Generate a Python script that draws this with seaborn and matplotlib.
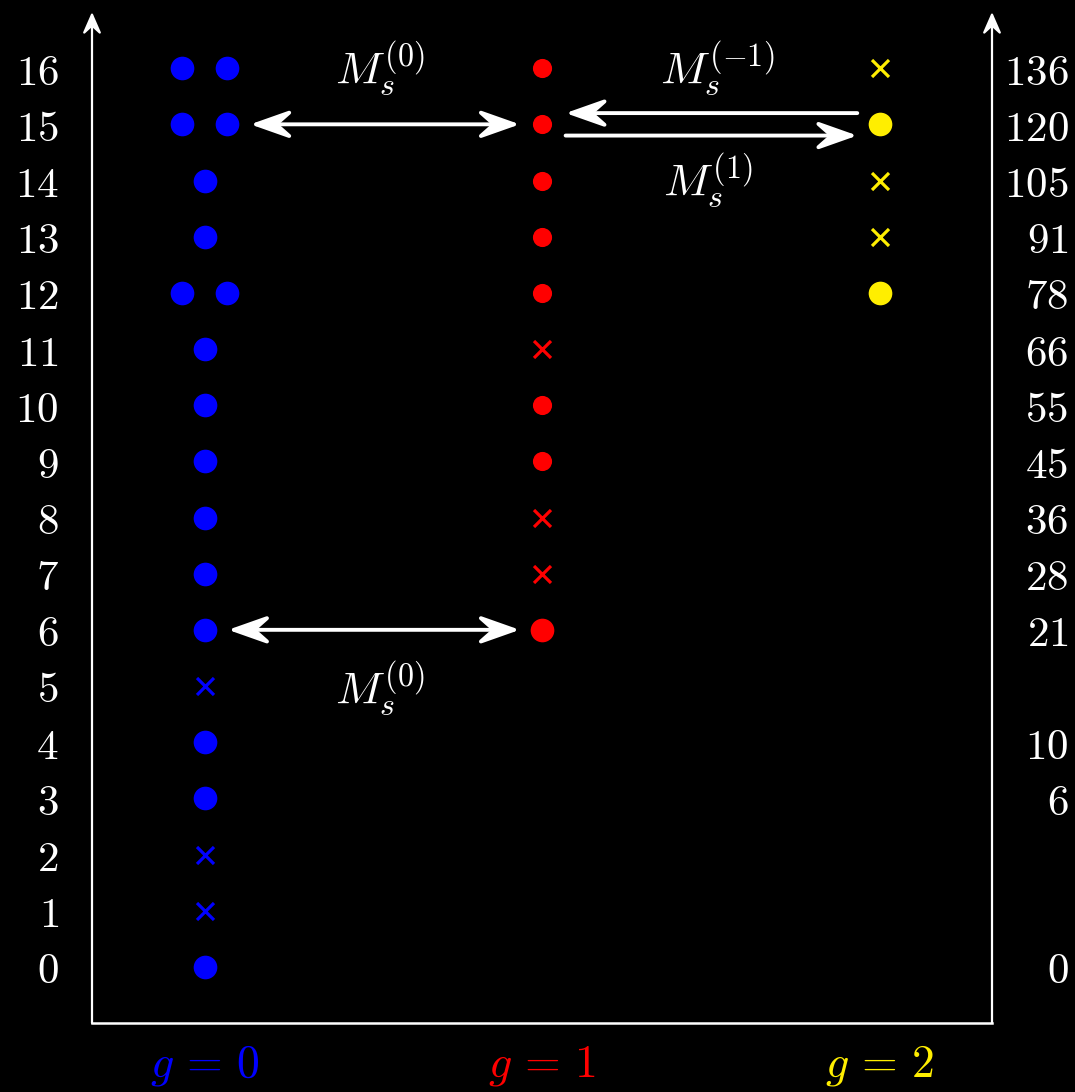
import matplotlib

matplotlib.use("Agg")
import matplotlib.pyplot as plt
import pandas as pd
import seaborn as sns
from matplotlib.patches import ArrowStyle
from matplotlib.path import Path

# rows of the diagram (left axis) and the g = 2 values (right axis)
rows = list(range(17))
right_rows = [0, 3, 4, 6, 7, 8, 9, 10, 11, 12, 13, 14, 15, 16]
right_labels = [0, 6, 10, 21, 28, 36, 45, 55, 66, 78, 91, 105, 120, 136]

# g = 0 column
g0_dots = [0, 3, 4, 6, 7, 8, 9, 10, 11, 13, 14]
g0_pairs = [12, 15, 16]
g0_cross = [1, 2, 5]
# g = 1 column
g1_dots = [9, 10, 12, 13, 14, 15, 16]
g1_big = [6]
g1_cross = [7, 8, 11]
# g = 2 column
g2_dots = [12, 15]
g2_cross = [13, 14, 16]

columns = [0, 1, 2]
col_labels = [r"$g\,=\,0$", r"$g\,=\,1$", r"$g\,=\,2$"]
col_colors = ["#0000ff", "#ff0000", "#ffee00"]

# maps: (from col, from row, to col, to row, both heads, label, label col, label row)
maps = [
    (0, 15, 1, 15, True, "$M_s^{(0)}$", 0.52, 16.0),
    (0, 6, 1, 6, True, "$M_s^{(0)}$", 0.52, 4.95),
    (2, 15.2, 1, 15.2, False, "$M_s^{(-1)}$", 1.52, 16.0),
    (1, 14.8, 2, 14.8, False, "$M_s^{(1)}$", 1.49, 14.0),
]
# shrink (pt) at start/end of each arrow
shrinks = [(33, 16), (17, 16), (16, 17), (17, 16)]

pair_dx = 0.068


# stealth (concave) arrow heads, like the tikz ones
def _stealth_wedge(self, *args, **kwargs):
    verts, codes, ddx, ddy = ArrowStyle._Curve._get_arrow_wedge(self, *args, **kwargs)
    (ax_, ay_), (tx, ty), (bx, by) = verts
    mx, my = (ax_ + bx) / 2, (ay_ + by) / 2
    notch = (tx + 0.6 * (mx - tx), ty + 0.6 * (my - ty))
    verts = [verts[0], verts[1], verts[2], notch]
    codes = [Path.MOVETO, Path.LINETO, Path.LINETO, Path.LINETO]
    return verts, codes, ddx, ddy


class StealthAB(ArrowStyle.CurveFilledAB):
    _get_arrow_wedge = _stealth_wedge


class StealthB(ArrowStyle.CurveFilledB):
    _get_arrow_wedge = _stealth_wedge


sns.set_style("dark", {"axes.facecolor": "black", "figure.facecolor": "black"})
plt.rcParams["mathtext.fontset"] = "cm"
plt.rcParams["font.family"] = ["DejaVu Serif"]

fig = plt.figure(figsize=(10.75, 10.92), dpi=100)
ax = fig.add_axes([92 / 1075, 1 - 1023 / 1092, 900 / 1075, (1023 - 12) / 1092])
ax.set_facecolor("black")


def pts(xs, rs):
    return pd.DataFrame({"x": xs, "y": rs})


dot_kw = dict(marker="o", linewidth=0, legend=False, ax=ax, clip_on=False)
cross_kw = dict(marker="x", linewidth=2.3, legend=False, ax=ax, clip_on=False)

# g = 0
sns.scatterplot(data=pts([0] * len(g0_dots), g0_dots), x="x", y="y",
                color=col_colors[0], s=290, **dot_kw)
sns.scatterplot(data=pts([0 - pair_dx] * len(g0_pairs) + [0 + pair_dx] * len(g0_pairs),
                         g0_pairs + g0_pairs), x="x", y="y",
                color=col_colors[0], s=290, **dot_kw)
sns.scatterplot(data=pts([0] * len(g0_cross), g0_cross), x="x", y="y",
                color=col_colors[0], s=150, **cross_kw)
# g = 1
sns.scatterplot(data=pts([1] * len(g1_dots), g1_dots), x="x", y="y",
                color=col_colors[1], s=190, **dot_kw)
sns.scatterplot(data=pts([1] * len(g1_big), g1_big), x="x", y="y",
                color=col_colors[1], s=290, **dot_kw)
sns.scatterplot(data=pts([1] * len(g1_cross), g1_cross), x="x", y="y",
                color=col_colors[1], s=150, **cross_kw)
# g = 2
sns.scatterplot(data=pts([2] * len(g2_dots), g2_dots), x="x", y="y",
                color=col_colors[2], s=290, **dot_kw)
sns.scatterplot(data=pts([2] * len(g2_cross), g2_cross), x="x", y="y",
                color=col_colors[2], s=150, **cross_kw)

# arrows between columns
for (c0, r0, c1, r1, both, lab, lx, ly), (sa, sb) in zip(maps, shrinks):
    cls = StealthAB if both else StealthB
    ax.annotate("", xy=(c1, r1), xytext=(c0, r0),
                arrowprops=dict(arrowstyle=cls(head_length=0.85, head_width=0.3),
                                color="white", lw=2.8, shrinkA=sa, shrinkB=sb,
                                mutation_scale=28))
    ax.text(lx, ly, lab, color="white", fontsize=33, ha="center", va="center")

ax.set_xlim(-1 / 3, 7 / 3)
ax.set_ylim(-1, 17)

# axes: left/right with arrow heads, plain bottom
for sp in ["top", "left", "right"]:
    ax.spines[sp].set_visible(False)
ax.spines["bottom"].set_color("white")
ax.spines["bottom"].set_linewidth(1.8)
for xa in [0, 1]:
    ax.annotate("", xy=(xa, 1.0), xytext=(xa, 0.0), xycoords="axes fraction",
                arrowprops=dict(arrowstyle=StealthB(head_length=0.8, head_width=0.35),
                                color="white", lw=1.6, shrinkA=0, shrinkB=0,
                                mutation_scale=16))

ax.set_yticks(rows, [f"${r}$" for r in rows])
ax.tick_params(axis="y", length=0, pad=24, labelsize=31, labelcolor="white")
ax.set_xticks(columns, col_labels)
ax.tick_params(axis="x", length=0, pad=14, labelsize=33)
for t, c in zip(ax.get_xticklabels(), col_colors):
    t.set_color(c)
ax.set_xlabel("")
ax.set_ylabel("")
ax.grid(False)

ax2 = ax.twinx()
ax2.set_ylim(ax.get_ylim())
for sp in ax2.spines.values():
    sp.set_visible(False)
ax2.set_yticks(right_rows, [f"${v}$" for v in right_labels])
ax2.tick_params(axis="y", length=0, pad=55, labelsize=31, labelcolor="white")
for t in ax2.get_yticklabels():
    t.set_horizontalalignment("right")
ax2.grid(False)

fig.savefig("out.png", dpi=100, facecolor="black")
